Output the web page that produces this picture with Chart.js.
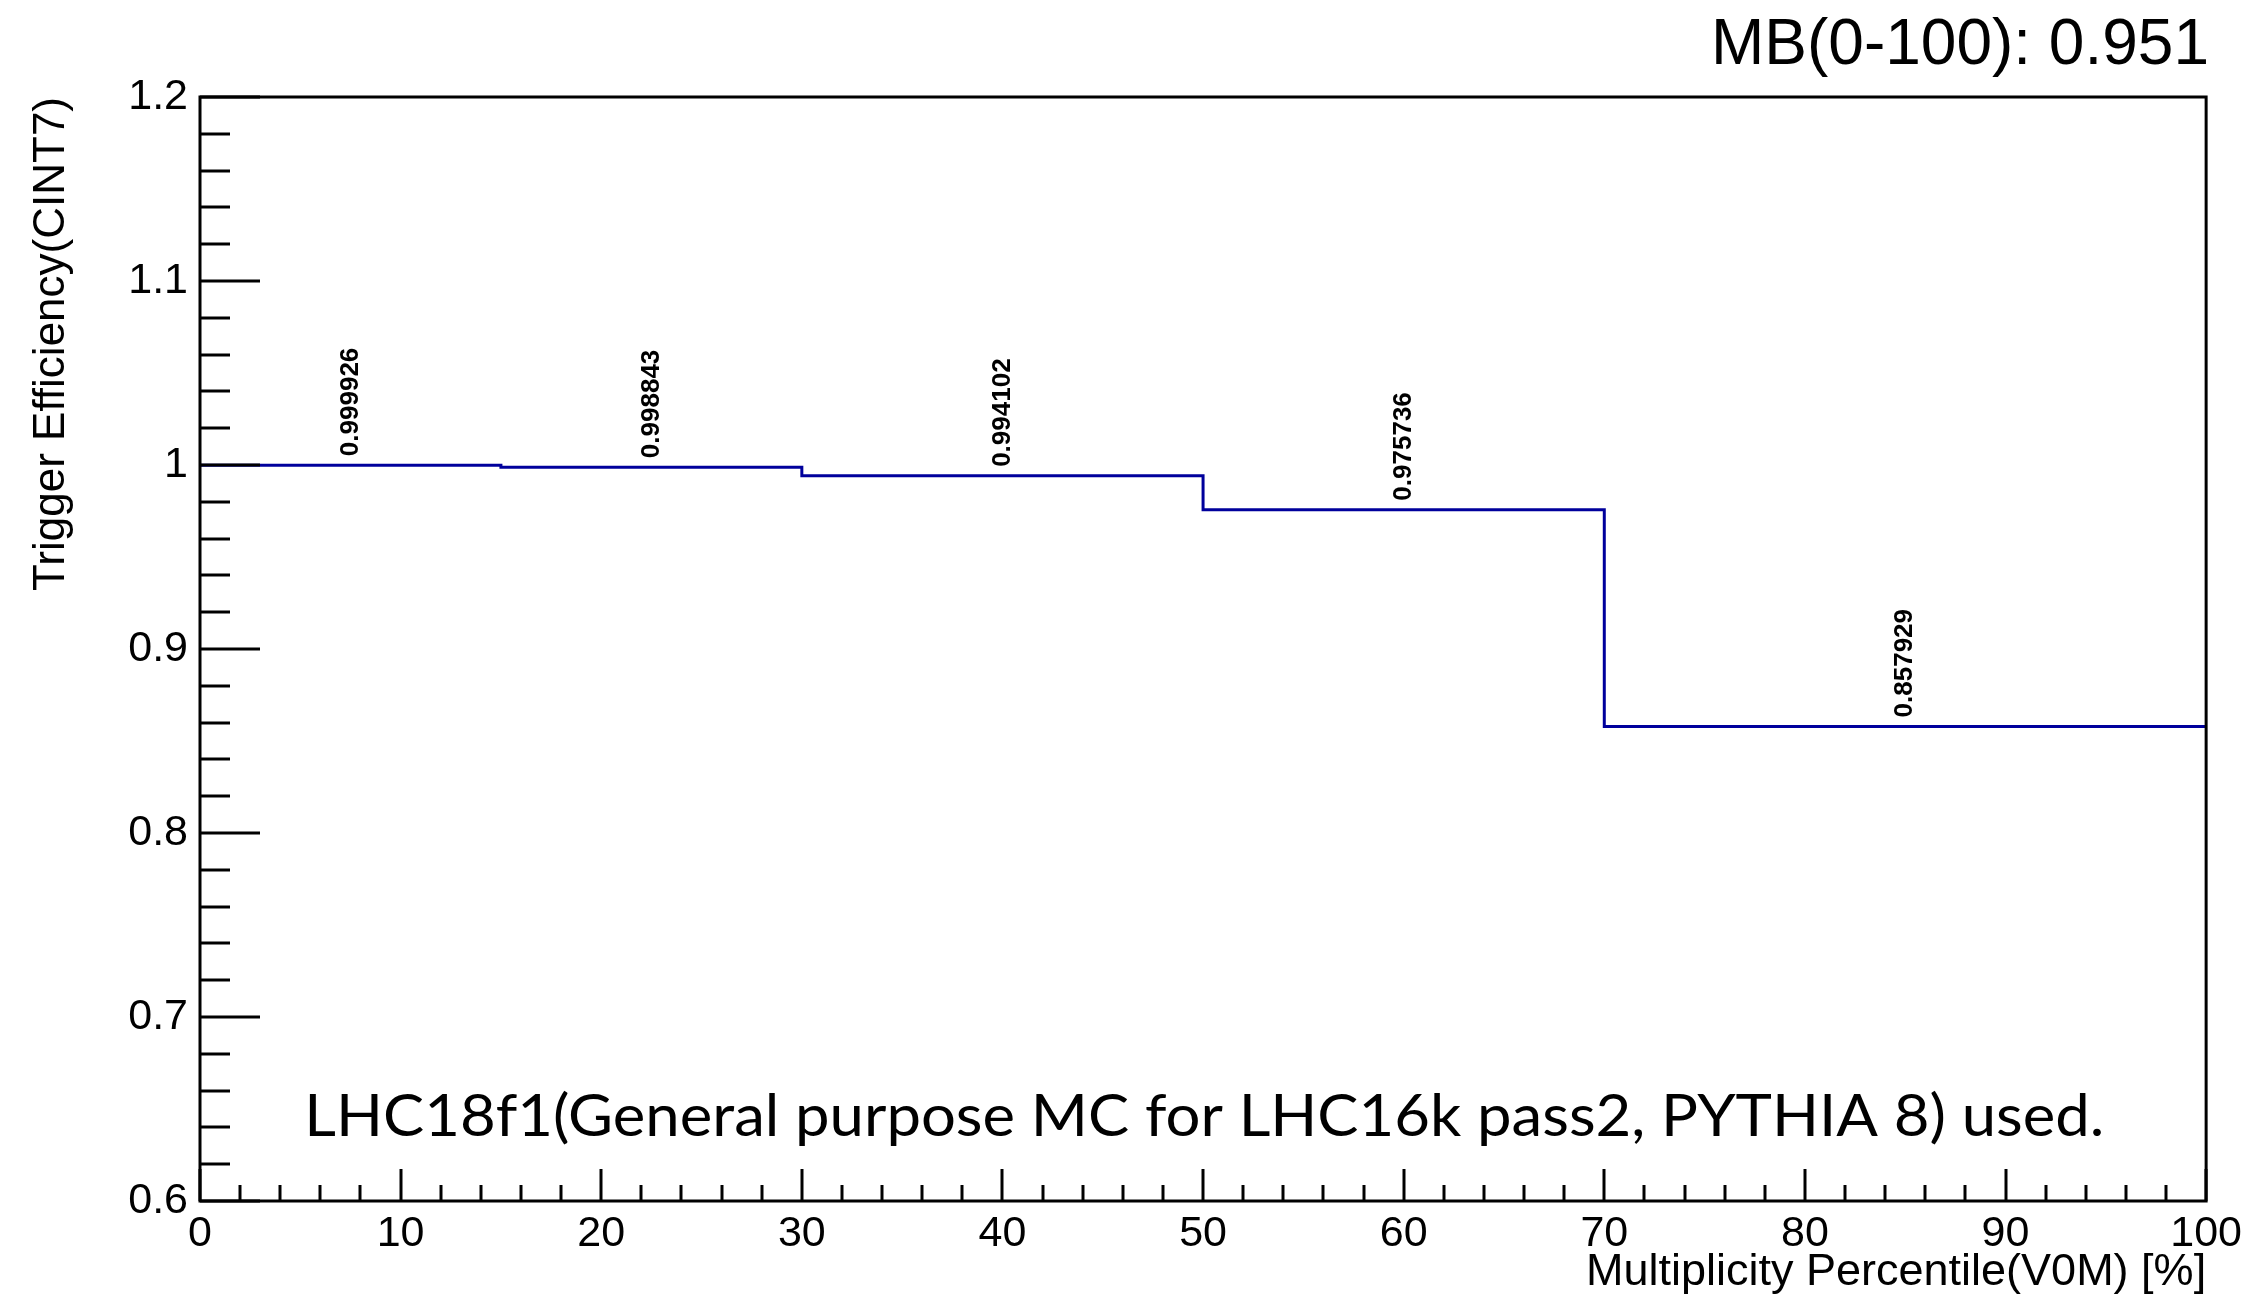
<!DOCTYPE html>
<html>
<head>
<meta charset="utf-8">
<script src="https://cdn.jsdelivr.net/npm/chart.js@4/dist/chart.umd.min.js"></script>
<style>
  html, body { margin: 0; padding: 0; background: #fff; }
  #wrap { width: 2249px; height: 1294px; }
</style>
</head>
<body>
<div id="wrap"><canvas id="effChart" width="2249" height="1294"></canvas></div>
<script>
// Data
const binEdges = [0, 15, 30, 50, 70, 100];
const efficiency = [0.999926, 0.998843, 0.994102, 0.975736, 0.857929];
const efficiencyText = ["0.999926", "0.998843", "0.994102", "0.975736", "0.857929"];
const xTickValues = [0, 10, 20, 30, 40, 50, 60, 70, 80, 90, 100];
const xTickLabels = ["0", "10", "20", "30", "40", "50", "60", "70", "80", "90", "100"];
const yTickValues = [0.6, 0.7, 0.8, 0.9, 1.0, 1.1, 1.2];
const yTickLabels = ["0.6", "0.7", "0.8", "0.9", "1", "1.1", "1.2"];
const titleText = "MB(0-100): 0.951";
const xTitle = "Multiplicity Percentile(V0M) [%]";
const yTitle = "Trigger Efficiency(CINT7)";
const noteText = "LHC18f1(General purpose MC for LHC16k pass2, PYTHIA 8) used.";

const lineColor = "#00009c";
const sans = "'Liberation Sans', Arial, Helvetica, sans-serif";

// Inward ROOT-style ticks, frame, bin value labels, note
const rootDecor = {
    id: "rootDecor",
    afterDatasetsDraw(chart) {
        const { ctx, chartArea: a, scales: { x, y } } = chart;
        ctx.save();
        ctx.strokeStyle = "#000";
        ctx.lineWidth = 3;
        ctx.lineCap = "butt";

        // y ticks: minor every 0.02, major every 0.1
        for (let i = 0; i <= 30; i++) {
            const py = Math.round(y.getPixelForValue(0.6 + i * 0.02));
            const len = i % 5 === 0 ? 60 : 30;
            ctx.beginPath();
            ctx.moveTo(a.left, py);
            ctx.lineTo(a.left + len, py);
            ctx.stroke();
        }
        // x ticks: minor every 2, major every 10
        for (let i = 0; i <= 50; i++) {
            const px = Math.round(x.getPixelForValue(i * 2));
            const len = i % 5 === 0 ? 32 : 16;
            ctx.beginPath();
            ctx.moveTo(px, a.bottom);
            ctx.lineTo(px, a.bottom - len);
            ctx.stroke();
        }
        // frame
        ctx.strokeRect(a.left, a.top, a.right - a.left, a.bottom - a.top);

        // bin contents, rotated
        ctx.fillStyle = "#000";
        ctx.font = "bold 26px " + sans;
        ctx.textAlign = "left";
        ctx.textBaseline = "middle";
        for (let i = 0; i < efficiency.length; i++) {
            const cx = x.getPixelForValue((binEdges[i] + binEdges[i + 1]) / 2);
            const cy = y.getPixelForValue(efficiency[i]) - 9;
            ctx.save();
            ctx.translate(cx, cy);
            ctx.rotate(-Math.PI / 2);
            ctx.fillText(efficiencyText[i], 0, 0);
            ctx.restore();
        }

        // note inside the frame
        ctx.font = "58px Lato, 'Noto Sans', sans-serif";
        ctx.textBaseline = "alphabetic";
        const nx = x.getPixelForValue(5.2);
        const ny = y.getPixelForValue(0.6355);
        const w = ctx.measureText(noteText).width;
        ctx.save();
        ctx.translate(nx, ny);
        ctx.scale(1800 / w, 1);
        ctx.fillText(noteText, 0, 0);
        ctx.restore();

        ctx.restore();
    }
};

// histogram outline: one point per bin edge, the last edge repeats the last bin value
const points = binEdges.map((e, i) => ({ x: e, y: efficiency[Math.min(i, efficiency.length - 1)] }));

new Chart(document.getElementById("effChart").getContext("2d"), {
    type: "line",
    data: {
        datasets: [{
            data: points,
            stepped: "before",
            borderColor: lineColor,
            borderWidth: 3,
            pointRadius: 0,
            fill: false,
        }],
    },
    options: {
        responsive: false,
        animation: false,
        devicePixelRatio: 1,
        layout: { padding: { top: 0, right: 40, left: 0, bottom: 0 } },
        plugins: {
            legend: { display: false },
            tooltip: { enabled: false },
            title: {
                display: true,
                text: titleText,
                align: "end",
                color: "#000",
                font: { family: sans, size: 64, weight: "normal", lineHeight: 1 },
                padding: { top: 14, bottom: 19 },
            },
        },
        scales: {
            x: {
                type: "linear",
                min: 0,
                max: 100,
                afterBuildTicks: s => { s.ticks = xTickValues.map(v => ({ value: v })); },
                afterFit: s => { s.height = 93; },
                grid: { display: false, drawTicks: false },
                border: { display: false },
                ticks: {
                    color: "#000",
                    padding: 7,
                    maxRotation: 0,
                    font: { family: sans, size: 43 },
                    callback: (v, i) => xTickLabels[i],
                },
                title: {
                    display: true,
                    text: xTitle,
                    align: "end",
                    color: "#000",
                    font: { family: sans, size: 45 },
                    padding: { top: 0, bottom: -6 },
                },
            },
            y: {
                type: "linear",
                min: 0.6,
                max: 1.2,
                afterBuildTicks: s => { s.ticks = yTickValues.map(v => ({ value: v })); },
                afterFit: s => { s.width = 200; },
                grid: { display: false, drawTicks: false },
                border: { display: false },
                ticks: {
                    color: "#000",
                    padding: 12,
                    font: { family: sans, size: 43 },
                    callback: (v, i) => yTickLabels[i],
                },
                title: {
                    display: true,
                    text: yTitle,
                    align: "end",
                    color: "#000",
                    font: { family: sans, size: 44 },
                    padding: { top: 25, bottom: 0 },
                },
            },
        },
    },
    plugins: [rootDecor],
});
</script>
</body>
</html>
